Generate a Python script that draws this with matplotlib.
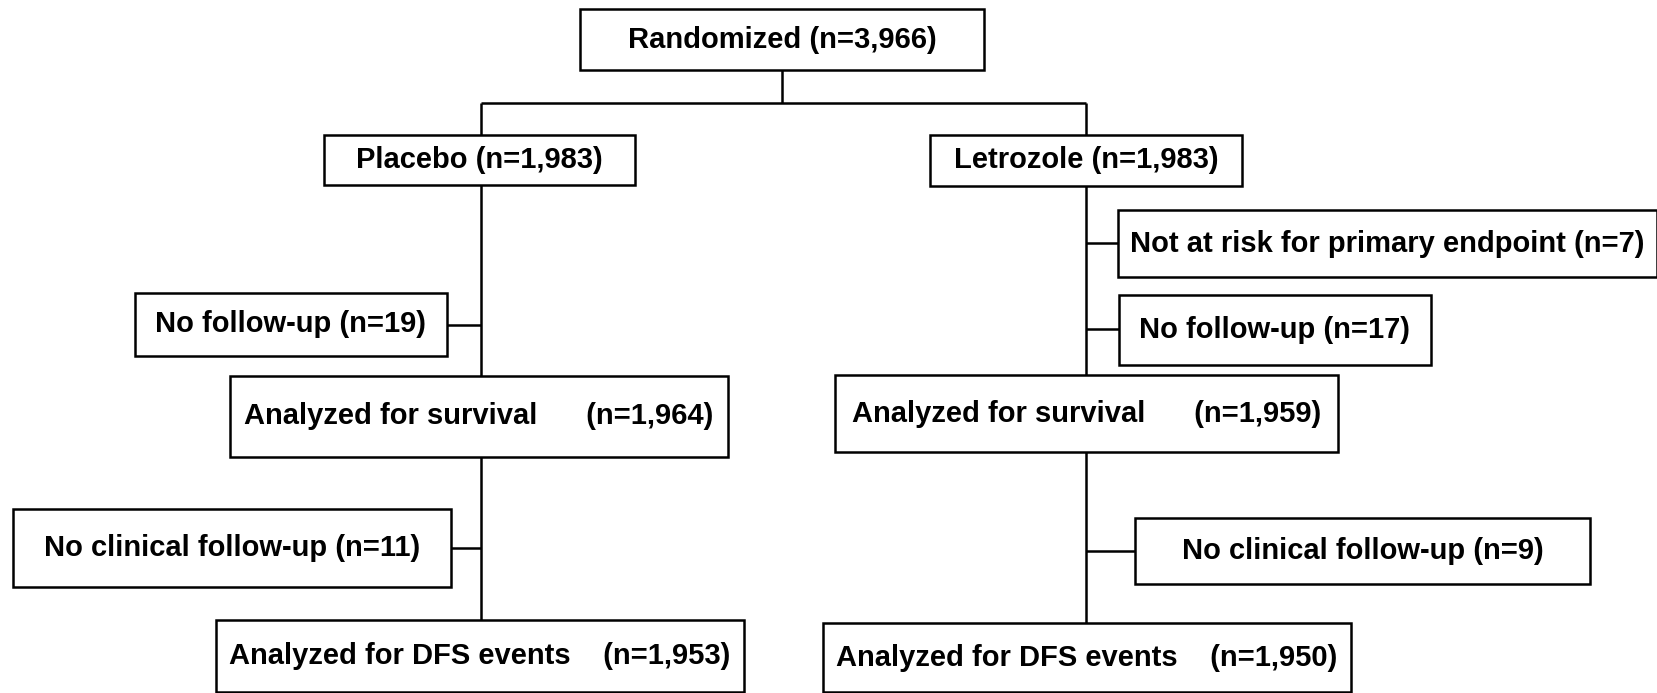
import matplotlib.pyplot as plt
from matplotlib.patches import Rectangle

plt.rcParams['font.family'] = ['Liberation Sans', 'DejaVu Sans']

# box labels and counts
names = ['Randomized', 'Placebo', 'Letrozole',
         'No follow-up', 'Analyzed for survival', 'No clinical follow-up', 'Analyzed for DFS events',
         'Not at risk for primary endpoint', 'No follow-up', 'Analyzed for survival',
         'No clinical follow-up', 'Analyzed for DFS events']
counts = ['3,966', '1,983', '1,983',
          '19', '1,964', '11', '1,953',
          '7', '17', '1,959', '9', '1,950']
gaps = [1, 1, 1, 1, 6, 1, 4, 1, 1, 6, 1, 4]

# layout in pixels: x0, x1, y0, y1
boxes = [(580, 984, 9, 70),
         (324, 635, 135, 185), (930, 1242, 135, 186),
         (135, 447, 293, 356), (230, 728, 376, 457), (13, 451, 509, 587), (216, 744, 620, 692),
         (1118, 1657, 210, 277), (1119, 1431, 295, 365), (835, 1338, 375, 452),
         (1135, 1590, 518, 584), (823, 1351, 623, 692)]

fig = plt.figure(figsize=(16.58, 6.93), dpi=100)
ax = fig.add_axes([0, 0, 1, 1])
ax.set_xlim(0, 1658)
ax.set_ylim(693, 0)
ax.axis('off')

lw = 1.8
for (x0, x1, y0, y1), nm, c, g in zip(boxes, names, counts, gaps):
    ax.add_patch(Rectangle((x0, y0), x1 - x0, y1 - y0, fill=False, lw=lw, ec='black'))
    ax.text((x0 + x1) / 2, (y0 + y1) / 2, nm + ' ' * g + '(n=' + c + ')',
            ha='center', va='center', fontsize=21, fontweight='bold')

def line(xs, ys):
    ax.plot(xs, ys, color='black', lw=lw, solid_capstyle='butt')

# top split
line([782, 782], [70, 103])
line([481, 1086], [103, 103])
line([481, 481], [103, 135])
line([1086, 1086], [103, 135])
# placebo arm
line([481, 481], [185, 376])
line([447, 481], [325, 325])
line([481, 481], [457, 620])
line([451, 481], [548, 548])
# letrozole arm
line([1086, 1086], [186, 375])
line([1086, 1118], [243, 243])
line([1086, 1119], [329, 329])
line([1086, 1086], [452, 623])
line([1086, 1135], [551, 551])

fig.savefig('out.png', dpi=100)
